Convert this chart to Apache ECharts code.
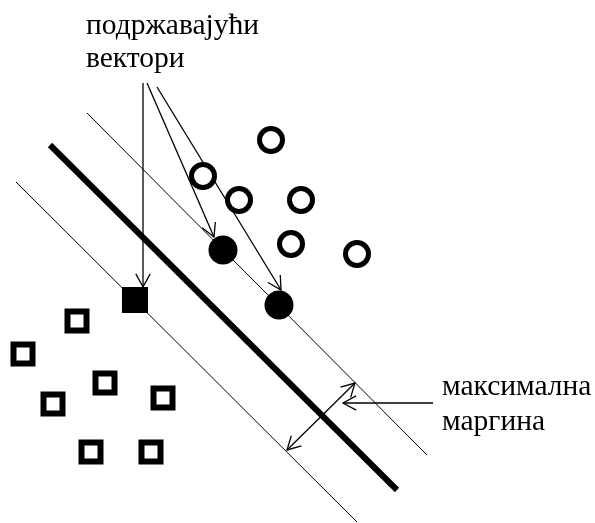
<!DOCTYPE html>
<html>
<head>
<meta charset="utf-8">
<script src="https://cdn.jsdelivr.net/npm/echarts@6/dist/echarts.min.js"></script>
<style>
html,body{margin:0;padding:0;background:#fff;}
#chart{width:595px;height:523px;}
</style>
</head>
<body>
<div id="chart"></div>
<script>
// Diagram coordinates (x to the right, y upward), data units
var hollowCircles = [[271,383],[203,347],[239,323],[301,323],[291,279],[357,269]];
var supportCircles = [[223,273],[279,218]];
var supportSquares = [[135,223]];
var hollowSquares = [[77,202],[23,169],[105,140],[53,119],[163,125],[91,71],[151,71]];
var separator = [[50,378],[397,33]];
var upperMargin = [[87,410],[427,68]];
var lowerMargin = [[16,341],[357,1]];
// arrows: x1, y1, x2 (tip), y2 (tip), double-headed flag
var arrows = [
  [143,440,143,236,0],
  [147,440,214,286,0],
  [157,436,281,233,0],
  [287,73,355,140,1],
  [433,120,343,120,0]
];
// labels: x, y, text
var labels = [
  [86,497,'подржавајући'],
  [86,464,'вектори'],
  [442,136,'максимална'],
  [442,101,'маргина']
];

var chart = echarts.init(document.getElementById('chart'), null, {renderer:'canvas'});

function arrowItem(params, api){
  var p1 = api.coord([api.value(0), api.value(1)]);
  var p2 = api.coord([api.value(2), api.value(3)]);
  var both = api.value(4);
  var st = {stroke:'#000', lineWidth:1.3, fill:null};
  var children = [{type:'line', shape:{x1:p1[0],y1:p1[1],x2:p2[0],y2:p2[1]}, style:st}];
  function head(tip, from){
    var a = Math.atan2(from[1]-tip[1], from[0]-tip[0]);
    var L = 15, s = 0.5;
    return {type:'polyline', shape:{points:[
      [tip[0]+L*Math.cos(a+s), tip[1]+L*Math.sin(a+s)],
      [tip[0], tip[1]],
      [tip[0]+L*Math.cos(a-s), tip[1]+L*Math.sin(a-s)]
    ]}, style:st};
  }
  children.push(head(p2, p1));
  if (both) children.push(head(p1, p2));
  return {type:'group', children:children};
}

function labelItem(params, api){
  var p = api.coord([api.value(0), api.value(1)]);
  return {type:'text', x:p[0], y:p[1], style:{
    text: labels[params.dataIndex][2],
    fill:'#000',
    font:'29.5px "Liberation Serif", "Times New Roman", serif',
    align:'left', verticalAlign:'middle'
  }};
}

chart.setOption({
  animation:false,
  backgroundColor:'#fff',
  grid:{left:0,right:0,top:0,bottom:0},
  xAxis:{type:'value',min:0,max:595,show:false},
  yAxis:{type:'value',min:0,max:523,show:false},
  series:[
    {type:'line', data:upperMargin, symbol:'none', lineStyle:{color:'#000',width:1}, silent:true},
    {type:'line', data:lowerMargin, symbol:'none', lineStyle:{color:'#000',width:1}, silent:true},
    {type:'line', data:separator, symbol:'none', lineStyle:{color:'#000',width:6}, silent:true},
    {type:'custom', renderItem:arrowItem, data:arrows, silent:true},
    {type:'scatter', data:hollowCircles, symbol:'circle', symbolSize:23,
      itemStyle:{color:'#fff', borderColor:'#000', borderWidth:5, opacity:1}},
    {type:'scatter', data:supportCircles, symbol:'circle', symbolSize:29,
      itemStyle:{color:'#000', opacity:1}},
    {type:'scatter', data:hollowSquares, symbol:'rect', symbolSize:19,
      itemStyle:{color:'#fff', borderColor:'#000', borderWidth:6, opacity:1}},
    {type:'scatter', data:supportSquares, symbol:'rect', symbolSize:26,
      itemStyle:{color:'#000', opacity:1}},
    {type:'custom', renderItem:labelItem, data:labels.map(function(l){return [l[0], l[1]];}), silent:true}
  ]
});
</script>
</body>
</html>
